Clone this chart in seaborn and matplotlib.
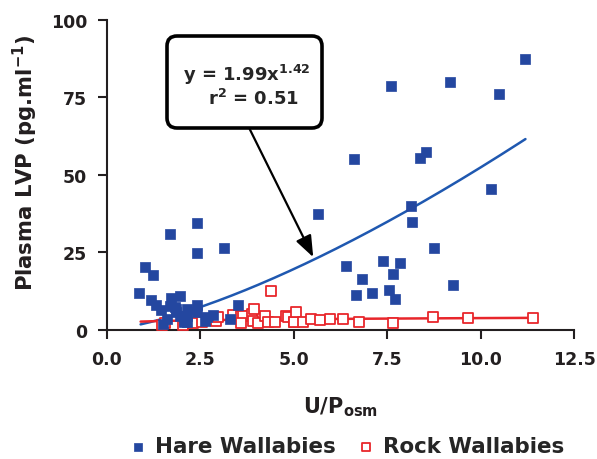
import numpy as np
import pandas as pd
import matplotlib
matplotlib.use("Agg")
import matplotlib.pyplot as plt
import seaborn as sns
from matplotlib.patches import FancyBboxPatch

# Hare wallabies: urine/plasma osmolality ratio vs plasma LVP
hare_x = [0.87, 1.02, 1.22, 1.19, 1.31, 1.44, 1.51, 1.60, 1.68, 1.71, 1.70, 1.82,
          1.86, 1.86, 1.95, 1.95, 2.05, 2.13, 2.13, 2.15, 2.40, 2.40, 2.41, 2.42,
          2.62, 2.67, 2.84, 3.13, 3.29, 3.51,
          5.64, 6.41, 6.60, 6.66, 6.82, 7.10, 7.39, 7.55, 7.59, 7.66, 7.71, 7.85,
          8.15, 8.17, 8.37, 8.55, 8.75, 9.19, 9.27, 10.27, 10.48, 11.18]
hare_y = [11.7, 20.2, 17.7, 9.6, 8.0, 6.5, 1.8, 3.5, 7.7, 10.1, 31.0, 7.2,
          5.6, 6.7, 10.8, 4.5, 2.4, 6.7, 2.4, 4.5, 8.0, 5.6, 24.8, 34.3,
          2.9, 4.0, 4.7, 26.3, 3.5, 8.0,
          37.3, 20.4, 55.0, 11.1, 16.4, 11.8, 22.2, 12.9, 78.6, 18.1, 10.0, 21.6,
          40.0, 34.7, 55.4, 57.4, 26.3, 79.8, 14.5, 45.5, 76.0, 87.3]

# Rock wallabies
rock_x = [1.46, 1.55, 2.04, 2.10, 2.30, 2.53, 2.70, 2.93, 2.98, 3.38, 3.60, 3.64,
          3.60, 3.87, 3.91, 3.93, 4.05, 4.22, 4.31, 4.39, 4.49, 4.80, 4.85, 5.00,
          5.01, 5.07, 5.25, 5.47, 5.71, 5.96, 6.31, 6.75, 7.66, 8.73, 9.66, 11.40]
rock_y = [1.5, 2.2, 1.5, 2.8, 2.0, 2.6, 3.5, 2.9, 4.0, 4.7, 4.5, 4.3,
          2.2, 5.1, 2.9, 6.7, 2.2, 4.5, 2.4, 12.4, 2.6, 4.5, 4.2, 2.4,
          2.4, 5.6, 2.6, 3.5, 3.2, 3.3, 3.3, 2.5, 2.3, 4.2, 3.9, 3.7]

# Power-law fits y = a * x^b
hare_fit = dict(a=1.99, b=1.42, x0=0.9, x1=11.2)
rock_fit = dict(a=2.65, b=0.15, x0=0.9, x1=11.4)

x_ticks = [0.0, 2.5, 5.0, 7.5, 10.0, 12.5]
y_ticks = [0, 25, 50, 75, 100]

BLUE = "#2447a0"
LINE_BLUE = "#1f58b0"
RED = "#e8262b"
INK = "#231f20"

sns.set_style("ticks")
plt.rcParams["font.family"] = ["DejaVu Sans"]
plt.rcParams["font.weight"] = "bold"
plt.rcParams["mathtext.fontset"] = "dejavusans"
plt.rcParams["mathtext.default"] = "bf"

fig = plt.figure(figsize=(5.97, 4.60), dpi=100)
ax = fig.add_axes([0.1792, 0.2811, 0.7823, 0.674])

hare = pd.DataFrame({"x": hare_x, "y": hare_y})
rock = pd.DataFrame({"x": rock_x, "y": rock_y})


def fit_curve(p):
    xs = np.linspace(p["x0"], p["x1"], 200)
    return pd.DataFrame({"x": xs, "y": p["a"] * xs ** p["b"]})


sns.lineplot(data=fit_curve(hare_fit), x="x", y="y", ax=ax, color=LINE_BLUE,
             linewidth=1.8, zorder=2)
sns.lineplot(data=fit_curve(rock_fit), x="x", y="y", ax=ax, color=RED,
             linewidth=1.8, zorder=2)

sns.scatterplot(data=rock, x="x", y="y", ax=ax, marker="s", s=48,
                facecolor="white", edgecolor=RED, linewidth=1.3,
                label="Rock Wallabies", zorder=3, clip_on=False)
sns.scatterplot(data=hare, x="x", y="y", ax=ax, marker="s", s=42,
                color=BLUE, edgecolor=BLUE, linewidth=0.5,
                label="Hare Wallabies", zorder=4, clip_on=False)

ax.set_xlim(0, 12.5)
ax.set_ylim(0, 100)
ax.set_xticks(x_ticks)
ax.set_xticklabels([f"{t:.1f}" for t in x_ticks])
ax.set_yticks(y_ticks)
ax.set_yticklabels([str(t) for t in y_ticks])
ax.tick_params(axis="both", direction="out", length=6.3, width=1.5,
               labelsize=12.5, pad=8, colors=INK)
for lab in ax.get_xticklabels() + ax.get_yticklabels():
    lab.set_fontweight("bold")
sns.despine(ax=ax)
for side in ("left", "bottom"):
    ax.spines[side].set_linewidth(1.5)
    ax.spines[side].set_color(INK)

ax.set_xlabel("U/P$_{osm}$", fontsize=15, fontweight="bold", labelpad=19,
              color=INK)
ax.set_ylabel("Plasma LVP (pg.ml$^{-1}$)", fontsize=15.2, fontweight="bold",
              color=INK)
ax.yaxis.set_label_coords(-0.143, 0.541)

# Equation call-out with an arrow pointing at the hare curve
ax.annotate("", xy=(5.52, 23.4), xytext=(3.82, 64.7),
            arrowprops=dict(arrowstyle="-|>,head_length=1.3,head_width=0.5",
                            color="black", lw=1.6, shrinkA=0, shrinkB=0),
            zorder=5)
box = FancyBboxPatch((1.67, 3.31), 1.55, 0.92,
                     boxstyle="round,pad=0,rounding_size=0.1",
                     transform=fig.dpi_scale_trans,
                     facecolor="white", edgecolor="black", linewidth=2.6,
                     zorder=6)
ax.add_patch(box)
ax.text(3.73, 82.6, "y = 1.99x$^{1.42}$", ha="center", va="center",
        fontsize=13, fontweight="bold", zorder=7)
ax.text(3.93, 74.6, "r$^{2}$ = 0.51", ha="center", va="center",
        fontsize=13, fontweight="bold", zorder=7)

ax.get_legend().remove()
handles, labels = ax.get_legend_handles_labels()
order = [labels.index("Hare Wallabies"), labels.index("Rock Wallabies")]
fig.legend([handles[i] for i in order], [labels[i] for i in order],
           loc="center", bbox_to_anchor=(0.577, 0.028), ncol=2, frameon=False,
           markerscale=0.8, handletextpad=0.2, columnspacing=0.8,
           handlelength=1.2, prop={"weight": "bold", "size": 15.4})

fig.savefig("out.png", dpi=100)
